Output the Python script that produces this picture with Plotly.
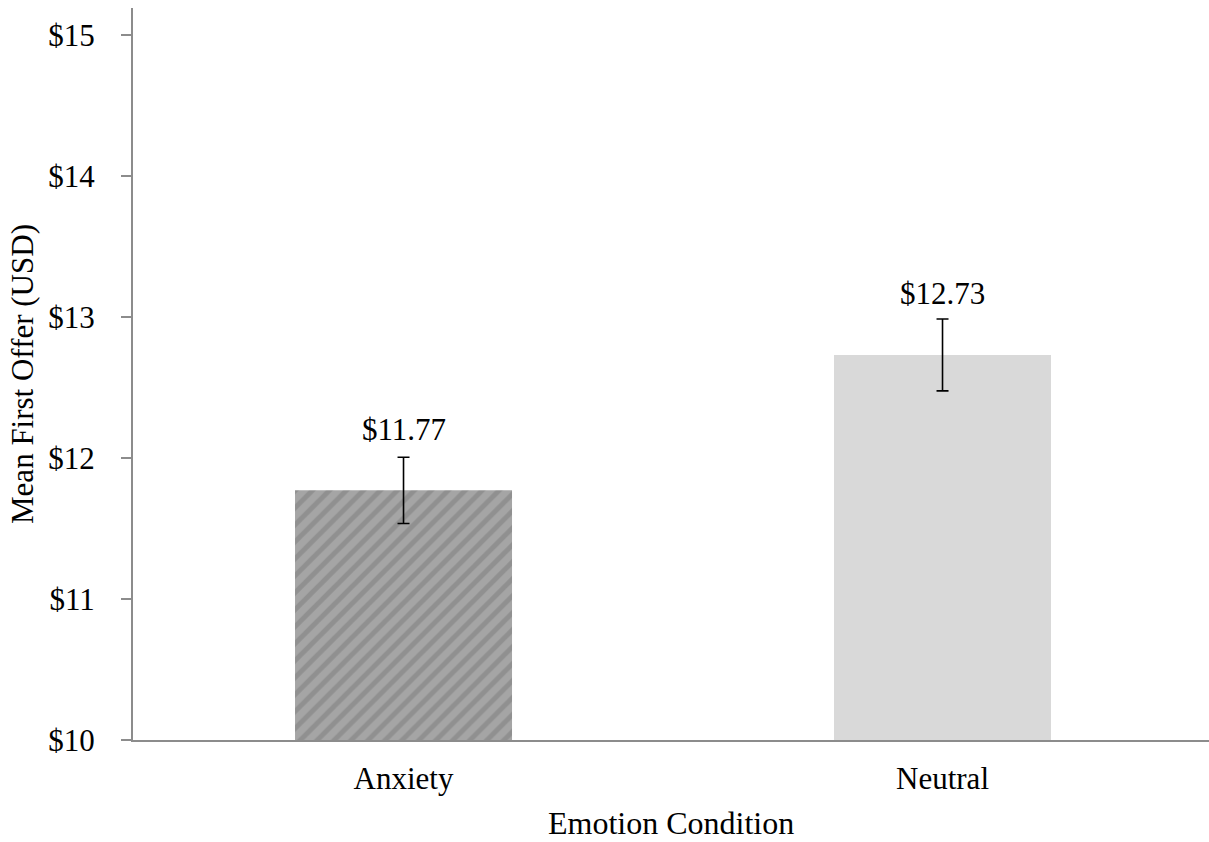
import plotly.graph_objects as go

categories = ["Anxiety", "Neutral"]
means = [11.77, 12.73]
errors = [0.235, 0.255]
labels = ["$11.77", "$12.73"]
tick_vals = [10, 11, 12, 13, 14, 15]
tick_text = ["$10", "$11", "$12", "$13", "$14", "$15"]
x_title = "Emotion Condition"
y_title = "Mean First Offer (USD)"

FONT = "Liberation Serif, Times New Roman, serif"
FS = 31
AX = "#8c8c8c"

fig = go.Figure()
fig.add_trace(go.Bar(
    x=[categories[0]], y=[means[0] - 10], base=10,
    width=0.4026,
    marker=dict(color="#a3a3a3", line=dict(width=0),
                pattern=dict(shape="/", fgcolor="#7c7c7c", bgcolor="#a5a5a5",
                             size=12, solidity=0.42)),
    error_y=dict(type="data", array=[errors[0]], color="black", thickness=1.6, width=6),
    showlegend=False,
))
fig.add_trace(go.Bar(
    x=[categories[1]], y=[means[1] - 10], base=10,
    width=0.4026,
    marker=dict(color="#d9d9d9", line=dict(width=0)),
    error_y=dict(type="data", array=[errors[1]], color="black", thickness=1.6, width=6),
    showlegend=False,
))

for c, m, t in zip(categories, means, labels):
    fig.add_annotation(x=c, y=m, text=t, showarrow=False, yanchor="middle",
                       yshift=61, font=dict(family=FONT, size=FS, color="black"))

# x-axis title as annotation (so it can sit near the bottom edge)
fig.add_annotation(x=0.5, xref="paper", y=0, yref="paper", text=x_title,
                   showarrow=False, yanchor="middle", yshift=-83,
                   font=dict(family=FONT, size=32, color="black"))

fig.update_layout(
    width=1209, height=842,
    margin=dict(l=133, r=0, t=8, b=102),
    paper_bgcolor="white", plot_bgcolor="white",
    font=dict(family=FONT, size=FS, color="black"),
    barmode="overlay",
    xaxis=dict(
        range=[-0.5019, 1.4944], showgrid=False, zeroline=False, automargin=False,
        showline=True, linecolor=AX, linewidth=2, ticks="",
        tickfont=dict(family=FONT, size=FS, color="black"),
        ticklabelstandoff=10,
    ),
    yaxis=dict(
        range=[10, 15.19], showgrid=False, zeroline=False, automargin=False,
        showline=True, linecolor=AX, linewidth=2,
        ticks="outside", ticklen=10, tickcolor=AX, tickwidth=2,
        tickvals=tick_vals, ticktext=tick_text,
        tickfont=dict(family=FONT, size=FS, color="black"),
        ticklabelstandoff=20,
        title=dict(text=y_title, standoff=5,
                   font=dict(family=FONT, size=FS, color="black")),
    ),
)

fig.write_html(
    "out.html",
    config={"displayModeBar": False},
    post_script="document.documentElement.style.overflow='hidden';"
                "document.body.style.margin='0';document.body.style.overflow='hidden';",
)
